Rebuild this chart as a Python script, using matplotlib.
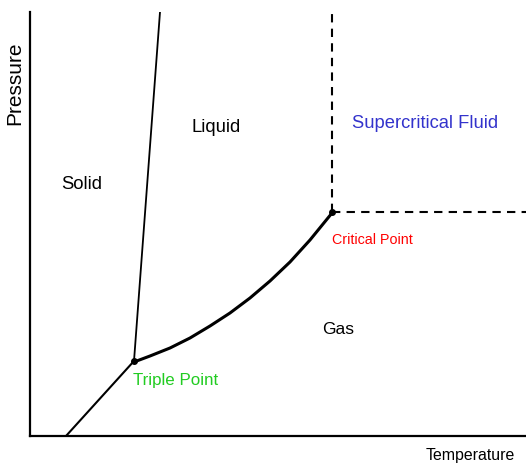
import matplotlib.pyplot as plt

plt.rcParams['font.family'] = ['Liberation Sans', 'DejaVu Sans']

# phase boundaries (temperature, pressure in arbitrary units)
solid_gas_T = [36, 104]
solid_gas_P = [0, 75]
solid_liq_T = [104, 130]
solid_liq_P = [75, 424]
liq_gas_T = [104, 120, 140, 160, 180, 200, 220, 240, 260, 280, 302]
liq_gas_P = [74, 80, 88, 98, 110, 123, 138, 155, 174, 196, 223]
triple = (104, 75)
critical = (302, 224)
T_max = 496
P_max = 424

fig = plt.figure(figsize=(5.26, 4.64), dpi=100)
ax = fig.add_axes([30 / 526, 27 / 464, 496 / 526, 424 / 464])
ax.set_xlim(0, T_max)
ax.set_ylim(0, P_max)

ax.plot(solid_gas_T, solid_gas_P, color='black', lw=1.5)
ax.plot(solid_liq_T, solid_liq_P, color='black', lw=1.3)
ax.plot(liq_gas_T, liq_gas_P, color='black', lw=2.2,
        solid_joinstyle='round', solid_capstyle='round')
ax.plot([critical[0], critical[0]], [critical[1], P_max], color='black',
        lw=1.5, ls=(0, (4, 3)))
ax.plot([critical[0], T_max], [critical[1], critical[1]], color='black',
        lw=1.5, ls=(0, (4, 3)))
ax.plot(*triple, 'o', color='black', ms=4)
ax.plot(*critical, 'o', color='black', ms=4)

# labels
ax.text(52, 252, 'Solid', fontsize=13.3, ha='center', va='center')
ax.text(186, 309, 'Liquid', fontsize=13.3, ha='center', va='center')
ax.text(395, 313, 'Supercritical Fluid', fontsize=13.2, color='#3333cc',
        ha='center', va='center')
ax.text(308, 107, 'Gas', fontsize=12.5, ha='center', va='center')
ax.text(342, 197, 'Critical Point', fontsize=10.3, color='#ff0000',
        ha='center', va='center')
ax.text(146, 56, 'Triple Point', fontsize=12.2, color='#22cc22',
        ha='center', va='center')

ax.spines['top'].set_visible(False)
ax.spines['right'].set_visible(False)
ax.spines['left'].set_linewidth(1.6)
ax.spines['bottom'].set_linewidth(1.6)
ax.set_xticks([])
ax.set_yticks([])

fig.text(470 / 526, 1 - 456 / 464, 'Temperature', fontsize=11.4,
         ha='center', va='center')
fig.text(15 / 526, 1 - 83 / 464, 'Pressure', fontsize=15, rotation=90,
         ha='center', va='center')

plt.savefig('out.png', dpi=100)
